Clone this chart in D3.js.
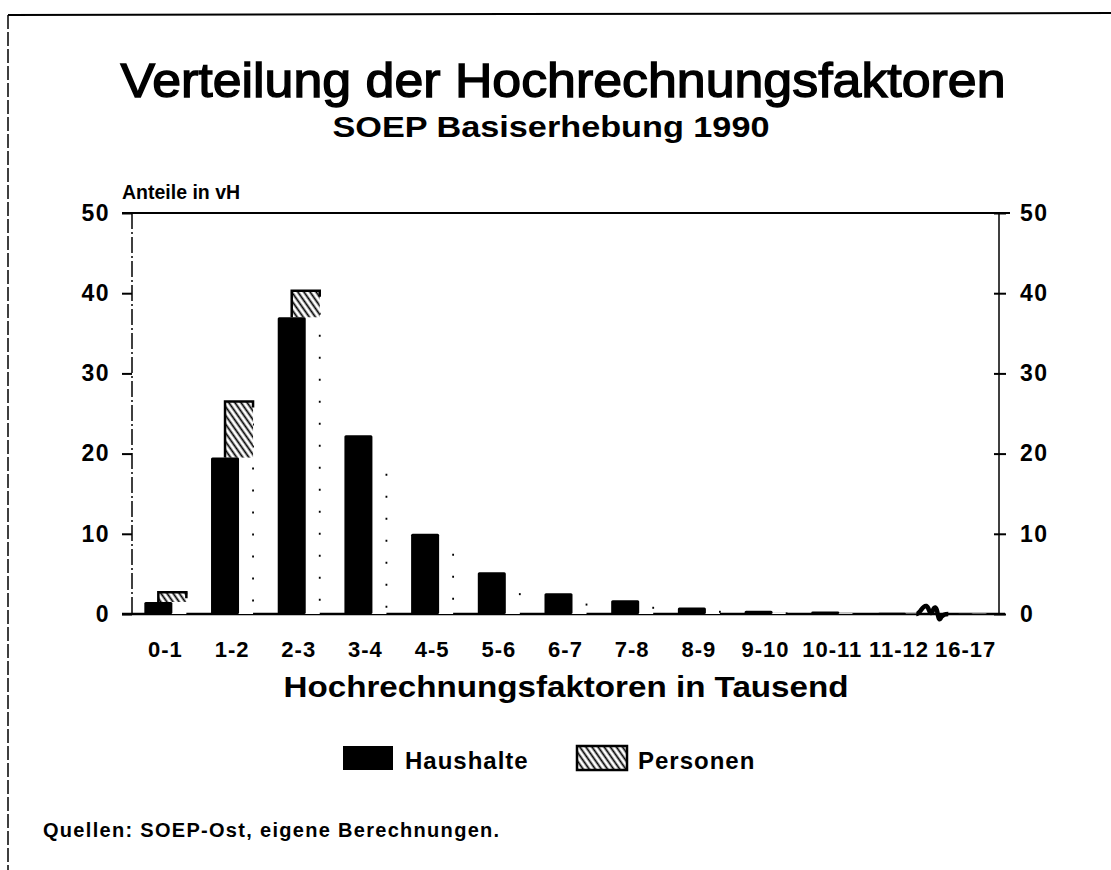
<!DOCTYPE html>
<html>
<head>
<meta charset="utf-8">
<script src="https://cdn.jsdelivr.net/npm/d3@7"></script>
<style>
  html, body { margin: 0; padding: 0; background: #fff; }
  svg { display: block; }
  text { font-family: "Liberation Sans", Arial, Helvetica, sans-serif; fill: #000; }
</style>
</head>
<body>
<svg id="chart" width="1111" height="870"></svg>
<script>
// ---- data ----
const categories = ["0-1","1-2","2-3","3-4","4-5","5-6","6-7","7-8","8-9","9-10","10-11","11-12","16-17"];
const haushalte = [1.5, 19.5, 37.0, 22.3, 10.0, 5.2, 2.6, 1.7, 0.8, 0.4, 0.3, 0.15, 0.1];
const personen  = [2.7, 26.5, 40.3, 17.5, 7.5, 2.6, 1.3, 0.9, 0.4, 0.2, 0.1, 0.05, 0.05];
const yTicks = [0, 10, 20, 30, 40, 50];
const seriesNames = ["Haushalte", "Personen"];
const breakAfter = "11-12";

(function () {
const svg = d3.select("#chart");
const pLeft = 132, pRight = 999, pTop = 213, pBottom = 614;
const FONT = "Liberation Sans, Arial, sans-serif";

const x = d3.scaleBand().domain(categories).range([pLeft, pRight]).paddingInner(0.37).paddingOuter(0.185);
const y = d3.scaleLinear().domain([0, 50]).range([pBottom, pTop]);
const bw = x.bandwidth();

// hatch pattern
const defs = svg.append("defs");
const pat = defs.append("pattern").attr("id", "hatch").attr("patternUnits", "userSpaceOnUse")
  .attr("width", 5).attr("height", 5).attr("patternTransform", "rotate(-35)");
pat.append("rect").attr("width", 5).attr("height", 5).attr("fill", "#fff");
pat.append("line").attr("x1", 1.5).attr("y1", 0).attr("x2", 1.5).attr("y2", 5)
  .attr("stroke", "#000").attr("stroke-width", 1.8);

// outer frame (top & left)
svg.append("line").attr("x1", 8).attr("y1", 15).attr("x2", 1111).attr("y2", 13)
  .attr("stroke", "#000").attr("stroke-width", 2);
svg.append("line").attr("x1", 8).attr("y1", 15).attr("x2", 8).attr("y2", 870)
  .attr("stroke", "#000").attr("stroke-width", 1.5).attr("stroke-dasharray", "14,3");

// titles
svg.append("text").attr("x", 563).attr("y", 97).attr("text-anchor", "middle")
  .attr("font-size", 48).attr("stroke", "#000").attr("stroke-width", 1.4)
  .attr("textLength", 885).attr("lengthAdjust", "spacingAndGlyphs")
  .text("Verteilung der Hochrechnungsfaktoren");
svg.append("text").attr("x", 551).attr("y", 137).attr("text-anchor", "middle")
  .attr("font-size", 29).attr("font-weight", "bold")
  .attr("textLength", 437).attr("lengthAdjust", "spacingAndGlyphs")
  .text("SOEP Basiserhebung 1990");
svg.append("text").attr("x", 122).attr("y", 199)
  .attr("font-size", 19.5).attr("font-weight", "bold")
  .text("Anteile in vH");

// axes frame
const g = svg.append("g");
g.append("line").attr("x1", pLeft - 10).attr("x2", pRight + 11).attr("y1", y(50)).attr("y2", y(50))
  .attr("stroke", "#000").attr("stroke-width", 2.2);
g.append("line").attr("x1", pLeft - 10).attr("x2", pRight + 6).attr("y1", y(0)).attr("y2", y(0))
  .attr("stroke", "#000").attr("stroke-width", 2.6);
g.append("line").attr("x1", pLeft).attr("x2", pLeft).attr("y1", y(50)).attr("y2", y(0))
  .attr("stroke", "#000").attr("stroke-width", 1.5).attr("stroke-dasharray", "16,3,2,3");
g.append("line").attr("x1", pRight).attr("x2", pRight).attr("y1", y(50)).attr("y2", y(0))
  .attr("stroke", "#000").attr("stroke-width", 1.5);

// left axis
const leftAxis = d3.axisLeft(y).tickValues(yTicks).tickSize(10).tickPadding(12);
const la = svg.append("g").attr("transform", `translate(${pLeft},0)`).call(leftAxis);
la.select(".domain").remove();
la.selectAll(".tick line").attr("stroke", "#000").attr("stroke-width", 2);
la.selectAll(".tick text").attr("font-size", 23).attr("font-weight", "bold")
  .attr("letter-spacing", 1.5).attr("font-family", FONT).attr("fill", "#000");

// right axis
const rightAxis = d3.axisRight(y).tickValues(yTicks).tickSize(7).tickPadding(14);
const ra = svg.append("g").attr("transform", `translate(${pRight},0)`).call(rightAxis);
ra.select(".domain").remove();
ra.selectAll(".tick line").attr("stroke", "#000").attr("stroke-width", 2).attr("x1", -5);
ra.selectAll(".tick text").attr("font-size", 23).attr("font-weight", "bold")
  .attr("letter-spacing", 1.5).attr("font-family", FONT).attr("fill", "#000");

// bottom axis labels
const xAxis = d3.axisBottom(x).tickSize(0).tickPadding(27);
const xa = svg.append("g").attr("transform", `translate(0,${pBottom})`).call(xAxis);
xa.select(".domain").remove();
xa.selectAll(".tick text").attr("font-size", 22).attr("font-weight", "bold")
  .attr("letter-spacing", 1).attr("font-family", FONT).attr("fill", "#000");

svg.append("text").attr("x", 566).attr("y", 697).attr("text-anchor", "middle")
  .attr("font-size", 30).attr("font-weight", "bold")
  .attr("textLength", 565).attr("lengthAdjust", "spacingAndGlyphs")
  .text("Hochrechnungsfaktoren in Tausend");

// bars
const data = categories.map((c, i) => ({ c, h: haushalte[i], p: personen[i] }));
const bars = svg.append("g");
const pg = bars.selectAll("g.p").data(data).join("g").attr("class", "p");
pg.append("rect")
  .attr("x", d => x(d.c) + bw / 3).attr("width", bw * 2 / 3)
  .attr("y", d => y(d.p)).attr("height", d => y(0) - y(d.p))
  .attr("fill", "#fff");
pg.append("line")
  .attr("x1", d => x(d.c) + bw).attr("x2", d => x(d.c) + bw)
  .attr("y1", d => y(d.p)).attr("y2", y(0))
  .attr("stroke", "#000").attr("stroke-width", 1.8).attr("stroke-dasharray", "2,20");
pg.filter(d => d.p > d.h).append("rect")
  .attr("x", d => x(d.c) + bw / 3).attr("width", bw * 2 / 3)
  .attr("y", d => y(d.p)).attr("height", d => y(d.h) - y(d.p))
  .attr("fill", "url(#hatch)");
pg.filter(d => d.p > d.h).append("path")
  .attr("d", d => `M${x(d.c) + bw / 3},${y(d.h)}V${y(d.p)}H${x(d.c) + bw}V${y(d.p) + 6}`)
  .attr("fill", "none").attr("stroke", "#000").attr("stroke-width", 2.5);

bars.selectAll("rect.h").data(data).join("rect").attr("class", "h")
  .attr("x", d => x(d.c)).attr("width", bw * 2 / 3)
  .attr("y", d => y(d.h)).attr("height", d => y(0) - y(d.h))
  .attr("fill", "#000").attr("rx", 1.5);

// axis break symbol
const bIdx = categories.indexOf(breakAfter);
const bx = (x(categories[bIdx]) + bw + x(categories[bIdx + 1])) / 2;
const by = y(0);
svg.append("path")
  .attr("d", `M${bx - 16},${by} C${bx - 12},${by} ${bx - 10},${by - 9} ${bx - 6},${by - 8} C${bx - 3},${by - 7} ${bx - 3},${by + 2} ${bx},${by - 2} C${bx + 2},${by - 9} ${bx + 4},${by - 7} ${bx + 5},${by - 2} C${bx + 6},${by + 4} ${bx + 7},${by + 8} ${bx + 9},${by + 3} C${bx + 11},${by} ${bx + 13},${by} ${bx + 16},${by}`)
  .attr("fill", "none").attr("stroke", "#000").attr("stroke-width", 4.5).attr("stroke-linejoin", "round");

// legend
const legend = svg.append("g");
legend.append("rect").attr("x", 343).attr("y", 746).attr("width", 50).attr("height", 24).attr("fill", "#000");
legend.append("text").attr("x", 405).attr("y", 769).attr("font-size", 24).attr("font-weight", "bold")
  .attr("letter-spacing", 1).text(seriesNames[0]);
legend.append("rect").attr("x", 577).attr("y", 746).attr("width", 50).attr("height", 24)
  .attr("fill", "url(#hatch)").attr("stroke", "#000").attr("stroke-width", 2.5);
legend.append("text").attr("x", 638).attr("y", 769).attr("font-size", 24).attr("font-weight", "bold")
  .attr("letter-spacing", 1).text(seriesNames[1]);

// footer
svg.append("text").attr("x", 43).attr("y", 837).attr("font-size", 20).attr("font-weight", "bold")
  .attr("letter-spacing", 1.3)
  .text("Quellen: SOEP-Ost, eigene Berechnungen.");
})();
</script>
</body>
</html>
